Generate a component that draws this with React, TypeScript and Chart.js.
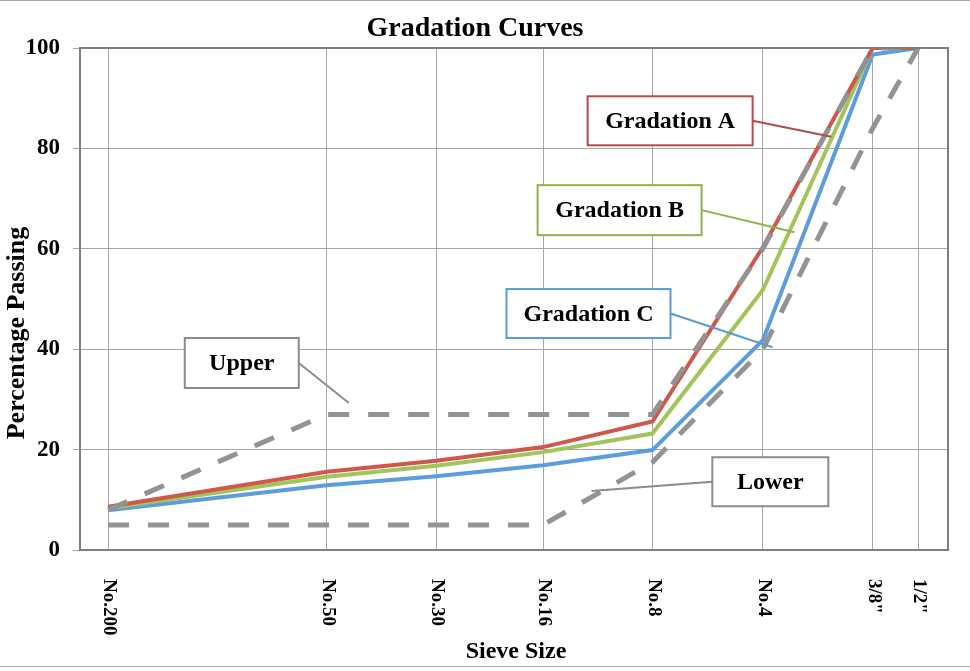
import React, { useEffect, useRef } from "react";
import { Chart, registerables } from "chart.js";

Chart.register(...registerables);

const sieveLabels = ["No.200", "No.50", "No.30", "No.16", "No.8", "No.4", '3/8"', '1/2"'];
const sieveSizes = [0.075, 0.3, 0.6, 1.18, 2.36, 4.75, 9.525, 12.7];
const gradationA = [8.6, 15.6, 17.8, 20.5, 25.6, 60.3, 100, 100];
const gradationB = [8.3, 14.6, 16.8, 19.5, 23.2, 51.8, 100, 100];
const gradationC = [7.9, 12.9, 14.7, 16.9, 19.9, 41.8, 98.7, 100];
const upperLimit = [8, 27, 27, 27, 27, 60, 100, 100];
const lowerLimit = [5, 5, 5, 5, 17.5, 40, 84, 100];
const yTicks = [0, 20, 40, 60, 80, 100];

const X_MIN = 0.0628;
const X_MAX = 15.35;

const SERIF = "'Liberation Serif', 'Times New Roman', serif";

type Callout = {
  text: string;
  cx: number; // data x of box centre
  cy: number; // data y of box centre
  w: number;
  h: number;
  ex: number; // data x of leader end
  ey: number; // data y of leader end
  color: string;
};

const callouts: Callout[] = [
  { text: "Gradation A", cx: 2.64, cy: 85.5, w: 165, h: 49, ex: 7.33, ey: 82.3, color: "#b24d47" },
  { text: "Gradation B", cx: 1.917, cy: 67.7, w: 164, h: 50, ex: 5.8, ey: 63.3, color: "#8fb24b" },
  { text: "Gradation C", cx: 1.574, cy: 47.1, w: 164, h: 49, ex: 5.05, ey: 40.4, color: "#5b9bd5" },
  { text: "Upper", cx: 0.175, cy: 37.25, w: 114, h: 50, ex: 0.345, ey: 29.3, color: "#8c8c8c" },
  { text: "Lower", cx: 4.98, cy: 13.6, w: 116, h: 49, ex: 1.604, ey: 11.75, color: "#8c8c8c" },
];

const pts = (vals: number[]) => sieveSizes.map((s, i) => ({ x: s, y: vals[i] }));

const decorPlugin = {
  id: "decor",
  afterDraw(chart: any) {
    const ctx = chart.ctx as CanvasRenderingContext2D;
    const { left, right, top, bottom } = chart.chartArea;
    const xs = chart.scales.x;
    const ys = chart.scales.y;
    ctx.save();

    // outer image lines
    ctx.strokeStyle = "#a8a8a8";
    ctx.lineWidth = 1;
    ctx.beginPath();
    ctx.moveTo(0, 0.5);
    ctx.lineTo(chart.width, 0.5);
    ctx.moveTo(0, 666.5);
    ctx.lineTo(chart.width, 666.5);
    ctx.stroke();

    // plot frame
    ctx.strokeStyle = "#7f7f7f";
    ctx.lineWidth = 2;
    ctx.strokeRect(left, top, right - left, bottom - top);

    // x tick labels (rotated clockwise)
    ctx.fillStyle = "#000";
    ctx.font = `bold 19px ${SERIF}`;
    ctx.textAlign = "left";
    ctx.textBaseline = "middle";
    sieveSizes.forEach((s, i) => {
      const x = xs.getPixelForValue(s);
      ctx.save();
      ctx.translate(x + 1, bottom + 29);
      ctx.rotate(Math.PI / 2);
      ctx.fillText(sieveLabels[i], 0, 0);
      ctx.restore();
    });

    // chart title
    ctx.font = `bold 28px ${SERIF}`;
    ctx.textAlign = "center";
    ctx.textBaseline = "alphabetic";
    ctx.fillText("Gradation Curves", 475, 36);

    // x axis title
    ctx.font = `bold 24px ${SERIF}`;
    ctx.fillText("Sieve Size", 516, 658);

    // y axis title
    ctx.save();
    ctx.translate(24, 333);
    ctx.rotate(-Math.PI / 2);
    ctx.font = `bold 26px ${SERIF}`;
    ctx.textAlign = "center";
    ctx.fillText("Percentage Passing", 0, 0);
    ctx.restore();

    // callouts
    callouts.forEach((c) => {
      const bx = xs.getPixelForValue(c.cx);
      const by = ys.getPixelForValue(c.cy);
      const ex = xs.getPixelForValue(c.ex);
      const ey = ys.getPixelForValue(c.ey);
      const sx = ex > bx ? bx + c.w / 2 : bx - c.w / 2;
      ctx.strokeStyle = c.color;
      ctx.lineWidth = 2;
      ctx.beginPath();
      ctx.moveTo(sx, by);
      ctx.lineTo(ex, ey);
      ctx.stroke();
      ctx.fillStyle = "#fff";
      ctx.fillRect(bx - c.w / 2, by - c.h / 2, c.w, c.h);
      ctx.strokeRect(bx - c.w / 2, by - c.h / 2, c.w, c.h);
      ctx.fillStyle = "#000";
      ctx.font = `bold 24px ${SERIF}`;
      ctx.textAlign = "center";
      ctx.textBaseline = "middle";
      ctx.fillText(c.text, bx, by + 1);
    });

    ctx.restore();
  },
};

export default function App() {
  const ref = useRef<HTMLCanvasElement | null>(null);

  useEffect(() => {
    if (!ref.current) return;
    const solid = (label: string, vals: number[], color: string) => ({
      label,
      data: pts(vals),
      borderColor: color,
      backgroundColor: color,
      borderWidth: 4,
      pointRadius: 0,
      tension: 0,
      fill: false,
    });
    const dashed = (label: string, vals: number[]) => ({
      label,
      data: pts(vals),
      borderColor: "#939393",
      backgroundColor: "#939393",
      borderWidth: 5,
      borderDash: [21, 19],
      pointRadius: 0,
      tension: 0,
      fill: false,
    });

    const chart = new Chart(ref.current, {
      type: "line",
      data: {
        datasets: [
          dashed("Upper", upperLimit),
          dashed("Lower", lowerLimit),
          solid("Gradation A", gradationA, "#d0574c"),
          solid("Gradation B", gradationB, "#a2c45a"),
          solid("Gradation C", gradationC, "#5c9ddf"),
        ] as any,
      },
      options: {
        animation: false,
        responsive: false,
        maintainAspectRatio: false,
        layout: { padding: { top: 48, right: 22, left: 0, bottom: 0 } },
        plugins: {
          legend: { display: false },
          tooltip: { enabled: false },
          title: { display: false },
        },
        scales: {
          x: {
            type: "logarithmic",
            min: X_MIN,
            max: X_MAX,
            bounds: "data",
            afterBuildTicks: (s: any) => {
              s.ticks = sieveSizes.map((v) => ({ value: v }));
            },
            afterFit: (s: any) => {
              s.height = 121;
            },
            ticks: { display: false },
            grid: { color: "#a6a6a6", lineWidth: 1, drawTicks: false },
            border: { display: false },
          },
          y: {
            min: 0,
            max: 100,
            afterBuildTicks: (s: any) => {
              s.ticks = yTicks.map((v) => ({ value: v }));
            },
            afterFit: (s: any) => {
              s.width = 80;
            },
            ticks: {
              color: "#000",
              padding: 13,
              font: { family: SERIF, weight: "bold", size: 23 },
            },
            grid: { color: "#a6a6a6", lineWidth: 1, tickLength: 7, drawTicks: true },
            border: { display: false },
          },
        } as any,
      },
      plugins: [decorPlugin],
    });
    return () => chart.destroy();
  }, []);

  return (
    <div style={{ position: "fixed", left: 0, top: 0, width: 970, height: 671, background: "#fff" }}>
      <canvas ref={ref} width={970} height={671} style={{ display: "block", width: 970, height: 671 }} />
    </div>
  );
}
